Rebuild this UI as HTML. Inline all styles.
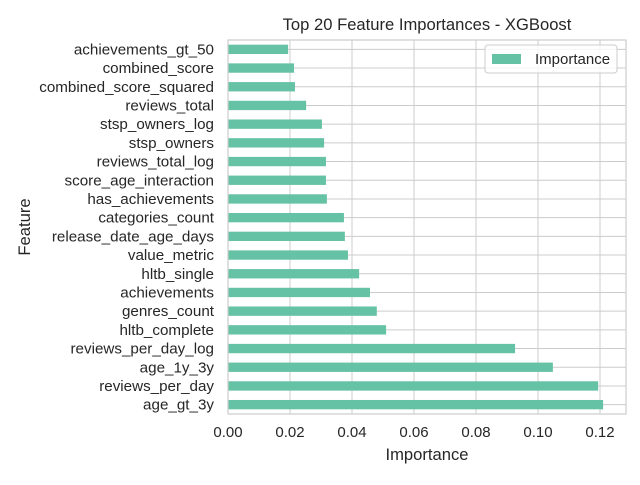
<!DOCTYPE html>
<html><head><meta charset="utf-8"><style>
body{margin:0;background:#fff;font-family:"Liberation Sans","DejaVu Sans",sans-serif;}
svg text{font-family:"Liberation Sans","DejaVu Sans",sans-serif;fill:#262626;}
</style></head><body>
<svg id="chart" width="640" height="480"></svg>
<script>
const categories=["age_gt_3y","reviews_per_day","age_1y_3y","reviews_per_day_log","hltb_complete","genres_count","achievements","hltb_single","value_metric","release_date_age_days","categories_count","has_achievements","score_age_interaction","reviews_total_log","stsp_owners","stsp_owners_log","reviews_total","combined_score_squared","combined_score","achievements_gt_50"];
const importance=[0.121,0.1194,0.1048,0.0926,0.051,0.048,0.0458,0.0423,0.0387,0.0377,0.0374,0.0319,0.0316,0.0316,0.031,0.0303,0.0252,0.0216,0.0213,0.0194];
const xTicks=[0,0.02,0.04,0.06,0.08,0.10,0.12];
const xTickLabels=["0.00","0.02","0.04","0.06","0.08","0.10","0.12"];
const NS="http://www.w3.org/2000/svg";
const svg=document.getElementById('chart');
const L=228,R=626,T=40,B=414;
const xMax=(R-L)/3100;
const x=v=>L+v/xMax*(R-L);
const step=(B-T)/categories.length;
const y=i=>B-(i+0.5)*step;
function mk(t,a,txt){const e=document.createElementNS(NS,t);for(const k in a)e.setAttribute(k,a[k]);if(txt!==undefined)e.textContent=txt;svg.appendChild(e);return e;}
let e;
e=mk('rect',{x:L,y:T,width:R-L,height:B-T,fill:'#fff'});


xTicks.forEach((v,i)=>{
 e=mk('line',{x1:x(v),x2:x(v),y1:T,y2:B,stroke:'#cccccc','stroke-width':1});
 
 
 e=mk('text',{x:x(v),y:B+23,'text-anchor':'middle','font-size':15},xTickLabels[i]);
 
 
});
categories.forEach((c,i)=>{
 e=mk('line',{x1:L,x2:R,y1:y(i),y2:y(i),stroke:'#cccccc','stroke-width':1});
 
 
});
categories.forEach((c,i)=>{
 const h=step*0.5;
 e=mk('rect',{x:L,y:y(i)-h/2,width:x(importance[i])-L,height:h,fill:'#66c2a5'});
 
 
 e=mk('text',{x:L-14,y:y(i)+5,'text-anchor':'end','font-size':15.2},c);
 
 
});
e=mk('rect',{x:L,y:T,width:R-L,height:B-T,fill:'none',stroke:'#cccccc','stroke-width':1.2});


e=mk('text',{x:(L+R)/2,y:30,'text-anchor':'middle','font-size':16.6},'Top 20 Feature Importances - XGBoost');


e=mk('text',{x:(L+R)/2,y:460,'text-anchor':'middle','font-size':16.6},'Importance');


e=mk('text',{x:30,y:(T+B)/2,'text-anchor':'middle','font-size':16.6,transform:'rotate(-90 30 '+((T+B)/2)+')'},'Feature');


e=mk('rect',{x:485,y:45,width:132,height:28,rx:3,fill:'#fff','fill-opacity':0.8,stroke:'#cccccc'});


e=mk('rect',{x:492,y:54,width:29,height:10,fill:'#66c2a5'});


e=mk('text',{x:535,y:64,'font-size':15},'Importance');


</script>
</body></html>
